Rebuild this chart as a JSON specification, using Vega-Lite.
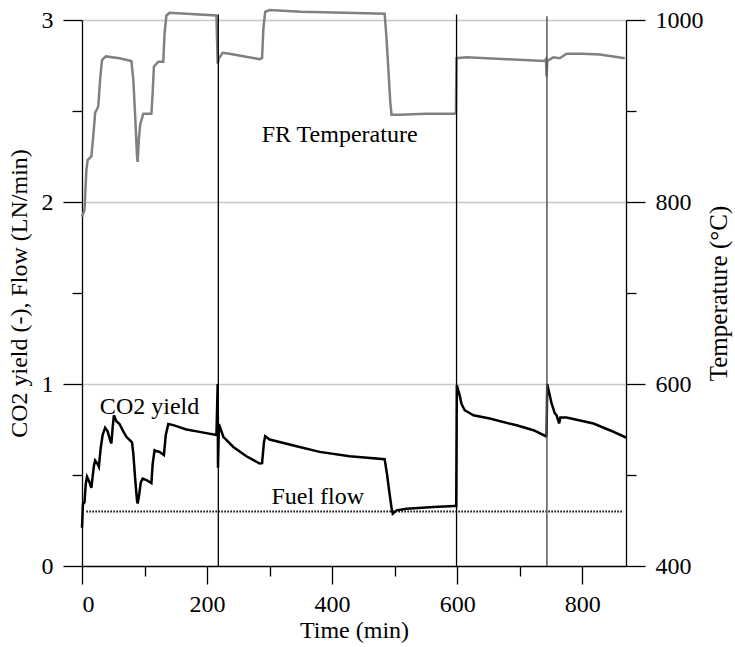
{
  "$schema": "https://vega.github.io/schema/vega-lite/v6.json",
  "width": 544,
  "height": 546,
  "autosize": "none",
  "padding": {"left": 82, "top": 20, "right": 109, "bottom": 81},
  "background": "white",
  "config": {
    "font": "Liberation Serif",
    "view": {"stroke": null},
    "style": {
      "guide-label": {"font": "Liberation Serif", "fontSize": 24, "fill": "black"},
      "guide-title": {"font": "Liberation Serif", "fontSize": 24, "fontWeight": "normal", "fill": "black"}
    },
    "axis": {
      "domainColor": "black",
      "domainWidth": 1.3,
      "tickColor": "black",
      "tickWidth": 1.3,
      "labelFont": "Liberation Serif",
      "labelFontSize": 24,
      "labelColor": "black",
      "titleFont": "Liberation Serif",
      "titleFontSize": 24,
      "titleFontWeight": "normal",
      "titleColor": "black"
    }
  },
  "datasets": {
    "temp": [
      {"t": 0, "T": 784}, {"t": 4, "T": 791}, {"t": 7, "T": 835}, {"t": 9, "T": 846}, {"t": 15, "T": 850},
      {"t": 19, "T": 880}, {"t": 21, "T": 898}, {"t": 26, "T": 905}, {"t": 29, "T": 935}, {"t": 32, "T": 956},
      {"t": 38, "T": 960}, {"t": 60, "T": 958}, {"t": 79, "T": 955}, {"t": 82, "T": 935}, {"t": 85, "T": 895},
      {"t": 88, "T": 850}, {"t": 89, "T": 844}, {"t": 91, "T": 870}, {"t": 93, "T": 885}, {"t": 98, "T": 897},
      {"t": 111, "T": 897}, {"t": 113, "T": 920}, {"t": 115, "T": 949}, {"t": 122, "T": 954}, {"t": 130, "T": 954},
      {"t": 132, "T": 985}, {"t": 135, "T": 1005}, {"t": 140, "T": 1008}, {"t": 167, "T": 1007}, {"t": 215, "T": 1005},
      {"t": 217, "T": 952}, {"t": 219, "T": 958}, {"t": 225, "T": 964}, {"t": 236, "T": 963}, {"t": 260, "T": 960},
      {"t": 284, "T": 957}, {"t": 288, "T": 958}, {"t": 290, "T": 990}, {"t": 293, "T": 1009}, {"t": 300, "T": 1011},
      {"t": 350, "T": 1009}, {"t": 420, "T": 1008}, {"t": 484, "T": 1007}, {"t": 487, "T": 980}, {"t": 490, "T": 945},
      {"t": 493, "T": 910}, {"t": 495, "T": 896}, {"t": 508, "T": 896}, {"t": 550, "T": 897}, {"t": 596, "T": 897},
      {"t": 598, "T": 898}, {"t": 599, "T": 958}, {"t": 615, "T": 959}, {"t": 680, "T": 957}, {"t": 740, "T": 955},
      {"t": 742, "T": 957}, {"t": 743, "T": 938}, {"t": 744, "T": 955}, {"t": 754, "T": 959}, {"t": 764, "T": 958},
      {"t": 775, "T": 963}, {"t": 800, "T": 963}, {"t": 828, "T": 962}, {"t": 850, "T": 960}, {"t": 868, "T": 958}
    ],
    "co2": [
      {"t": 0, "y": 0.21}, {"t": 1.5, "y": 0.34}, {"t": 4, "y": 0.35}, {"t": 6, "y": 0.45}, {"t": 8, "y": 0.49},
      {"t": 12, "y": 0.46}, {"t": 15, "y": 0.43}, {"t": 19, "y": 0.55}, {"t": 21, "y": 0.58}, {"t": 25, "y": 0.56},
      {"t": 27, "y": 0.545}, {"t": 30, "y": 0.65}, {"t": 33, "y": 0.72}, {"t": 37, "y": 0.76}, {"t": 41, "y": 0.74},
      {"t": 45, "y": 0.69}, {"t": 47, "y": 0.673}, {"t": 49, "y": 0.76}, {"t": 51, "y": 0.828}, {"t": 55, "y": 0.795},
      {"t": 60, "y": 0.78}, {"t": 66, "y": 0.74}, {"t": 71, "y": 0.71}, {"t": 80, "y": 0.68}, {"t": 82, "y": 0.62},
      {"t": 85, "y": 0.48}, {"t": 88, "y": 0.36}, {"t": 89, "y": 0.343}, {"t": 91, "y": 0.38}, {"t": 94, "y": 0.46},
      {"t": 97, "y": 0.48}, {"t": 104, "y": 0.47}, {"t": 111, "y": 0.455}, {"t": 113, "y": 0.56}, {"t": 116, "y": 0.636},
      {"t": 120, "y": 0.63}, {"t": 124, "y": 0.627}, {"t": 131, "y": 0.61}, {"t": 134, "y": 0.72}, {"t": 138, "y": 0.78},
      {"t": 146, "y": 0.774}, {"t": 167, "y": 0.75}, {"t": 188, "y": 0.737}, {"t": 215, "y": 0.72}, {"t": 217, "y": 1.0},
      {"t": 217.5, "y": 0.54}, {"t": 219, "y": 0.78}, {"t": 221, "y": 0.76}, {"t": 226, "y": 0.71}, {"t": 242, "y": 0.654},
      {"t": 263, "y": 0.603}, {"t": 284, "y": 0.563}, {"t": 288, "y": 0.565}, {"t": 291, "y": 0.68}, {"t": 293, "y": 0.713},
      {"t": 300, "y": 0.695}, {"t": 348, "y": 0.654}, {"t": 380, "y": 0.627}, {"t": 428, "y": 0.603}, {"t": 484, "y": 0.587},
      {"t": 488, "y": 0.5}, {"t": 491, "y": 0.42}, {"t": 495, "y": 0.32}, {"t": 497, "y": 0.288}, {"t": 503, "y": 0.306},
      {"t": 519, "y": 0.315}, {"t": 562, "y": 0.324}, {"t": 596, "y": 0.33}, {"t": 598.5, "y": 0.33}, {"t": 599.5, "y": 0.993},
      {"t": 604, "y": 0.938}, {"t": 607, "y": 0.89}, {"t": 612, "y": 0.856}, {"t": 626, "y": 0.828}, {"t": 652, "y": 0.81},
      {"t": 695, "y": 0.773}, {"t": 722, "y": 0.746}, {"t": 742, "y": 0.713}, {"t": 743, "y": 0.72}, {"t": 744, "y": 1.0},
      {"t": 751, "y": 0.893}, {"t": 756, "y": 0.84}, {"t": 759, "y": 0.828}, {"t": 763, "y": 0.783}, {"t": 765, "y": 0.816},
      {"t": 775, "y": 0.816}, {"t": 818, "y": 0.783}, {"t": 844, "y": 0.746}, {"t": 870, "y": 0.706}
    ],
    "fuel": [{"t": 7, "y": 0.3}, {"t": 866, "y": 0.3}],
    "rulesBlack": [{"t": 218}, {"t": 599}],
    "rulesGray": [{"t": 743.5}],
    "labels": [
      {"t": 412, "y": 2.368, "label": "FR Temperature"},
      {"t": 108, "y": 0.872, "label": "CO2 yield"},
      {"t": 377, "y": 0.378, "label": "Fuel flow"}
    ]
  },
  "layer": [
    {
      "data": {"name": "temp"},
      "mark": {"type": "line", "color": "#808080", "strokeWidth": 2.5, "clip": false},
      "encoding": {
        "x": {"field": "t", "type": "quantitative", "scale": {"domain": [0, 870], "nice": false},
          "axis": {"title": "Time (min)", "values": [0, 100, 200, 300, 400, 500, 600, 700, 800],
            "labelExpr": "datum.value % 200 === 0 ? format(datum.value, 'd') : ''",
            "labelFont": "Liberation Serif", "labelFontSize": 24, "titleFont": "Liberation Serif", "titleFontSize": 24,
            "tickSize": {"condition": {"test": "datum.value % 200 === 0", "value": 18}, "value": 10},
            "labelPadding": 8, "titlePadding": 2, "grid": false}},
        "y": {"field": "T", "type": "quantitative", "scale": {"domain": [400, 1000], "nice": false},
          "axis": {"orient": "right", "title": "Temperature (°C)", "titleAngle": -90,
            "values": [400, 500, 600, 700, 800, 900, 1000],
            "labelExpr": "datum.value % 200 === 0 ? format(datum.value, 'd') : ''",
            "labelFont": "Liberation Serif", "labelFontSize": 24, "titleFont": "Liberation Serif", "titleFontSize": 25,
            "tickSize": {"condition": {"test": "datum.value % 200 === 0", "value": 19}, "value": 10},
            "labelPadding": 10, "titlePadding": 28, "grid": false}}
      }
    },
    {
      "layer": [
        {
          "data": {"name": "co2"},
          "mark": {"type": "line", "color": "black", "strokeWidth": 2.5},
          "encoding": {
            "x": {"field": "t", "type": "quantitative", "scale": {"domain": [0, 870], "nice": false},
              "axis": {"title": "Time (min)", "values": [0, 100, 200, 300, 400, 500, 600, 700, 800],
                "labelExpr": "datum.value % 200 === 0 ? format(datum.value, 'd') : ''",
                "labelFont": "Liberation Serif", "labelFontSize": 24, "titleFont": "Liberation Serif", "titleFontSize": 24,
                "tickSize": {"condition": {"test": "datum.value % 200 === 0", "value": 18}, "value": 10},
                "labelPadding": 8, "titlePadding": 2, "grid": false}},
            "y": {"field": "y", "type": "quantitative", "scale": {"domain": [0, 3], "nice": false},
              "axis": {"orient": "left", "title": "CO2 yield (-), Flow (LN/min)",
                "values": [0, 0.5, 1, 1.5, 2, 2.5, 3],
                "labelExpr": "datum.value % 1 === 0 ? format(datum.value, 'd') : ''",
                "labelFont": "Liberation Serif", "labelFontSize": 24, "titleFont": "Liberation Serif", "titleFontSize": 24,
                "tickSize": {"condition": {"test": "datum.value % 1 === 0", "value": 19}, "value": 10},
                "grid": true, "gridColor": "#c8c8c8", "gridWidth": 1.3,
                "gridOpacity": {"condition": {"test": "datum.value % 1 === 0 && datum.value > 0", "value": 1}, "value": 0},
                "labelPadding": 10, "titlePadding": 10}}
          }
        },
        {
          "data": {"name": "fuel"},
          "mark": {"type": "line", "color": "black", "strokeWidth": 2, "strokeDash": [1.5, 1.5]},
          "encoding": {
            "x": {"field": "t", "type": "quantitative"},
            "y": {"field": "y", "type": "quantitative"}
          }
        },
        {
          "data": {"name": "rulesBlack"},
          "mark": {"type": "rule", "color": "black", "strokeWidth": 1.3, "clip": false},
          "encoding": {
            "x": {"field": "t", "type": "quantitative"},
            "y": {"datum": 0},
            "y2": {"datum": 3.03}
          }
        },
        {
          "data": {"name": "rulesGray"},
          "mark": {"type": "rule", "color": "#555555", "strokeWidth": 1.5, "clip": false},
          "encoding": {
            "x": {"field": "t", "type": "quantitative"},
            "y": {"datum": 0},
            "y2": {"datum": 3.02}
          }
        },
        {
          "data": {"name": "labels"},
          "mark": {"type": "text", "font": "Liberation Serif", "fontSize": 24, "color": "black", "align": "center", "baseline": "middle"},
          "encoding": {
            "x": {"field": "t", "type": "quantitative"},
            "y": {"field": "y", "type": "quantitative"},
            "text": {"field": "label"}
          }
        }
      ]
    }
  ],
  "resolve": {"scale": {"y": "independent"}}
}
